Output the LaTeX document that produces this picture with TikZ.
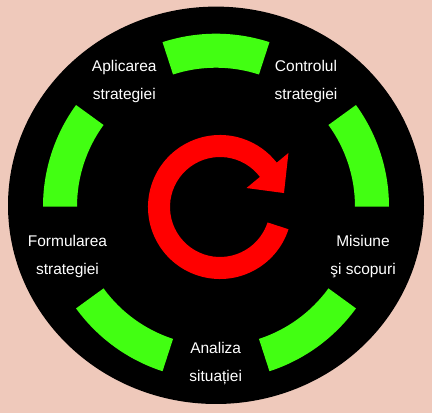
\documentclass[tikz,border=0pt]{standalone}
\usepackage{fontspec}
\setmainfont{Liberation Sans}
\definecolor{bgpink}{RGB}{239,201,187}
\definecolor{ringgreen}{RGB}{66,255,18}
\definecolor{arrowred}{RGB}{255,0,0}
\begin{document}
\begin{tikzpicture}[x=1pt,y=1pt,
  seg/.style={fill=ringgreen},
  lbl/.style={text=white,align=center,inner sep=0pt,font=\fontsize{15.5}{28}\selectfont}]
\useasboundingbox (0,0) rectangle (432,413);
\fill[bgpink] (0,0) rectangle (432,413);
\coordinate (E) at (216,207.7);
\fill[black] (E) ellipse [x radius=208, y radius=198.7];
\coordinate (O) at (216,206.3);
\foreach \a in {0,72,144,216,288} {
  \fill[seg] ([shift={(\a:173)}]O) arc[start angle=\a, end angle=\a+36, radius=173]
    -- ([shift={(\a+36:139)}]O) arc[start angle=\a+36, end angle=\a, radius=139] -- cycle;
}
\coordinate (R) at (220,206);
\fill[arrowred] ([shift={(-18:72)}]R) arc[start angle=-18, end angle=-322, radius=72]
  -- ([shift={(38.3:87.2)}]R) -- ([shift={(12.3:65.5)}]R) -- ([shift={(35.6:32.6)}]R)
  -- ([shift={(-323:50)}]R) arc[start angle=-323, end angle=-18, radius=50] -- cycle;
\node[lbl] (aplic) at (124.3,331.2) {Aplicarea\\strategiei};
\node[lbl] (contr) at (306,331.2) {Controlul\\strategiei};
\node[lbl] (formul) at (67.5,156.9) {Formularea\\strategiei};
\node[lbl] (misiune) at (363,156.9) {Misiune\\şi scopuri};
\node[lbl] (analiza) at (215.7,49.6) {Analiza\\situației};
\end{tikzpicture}
\end{document}
